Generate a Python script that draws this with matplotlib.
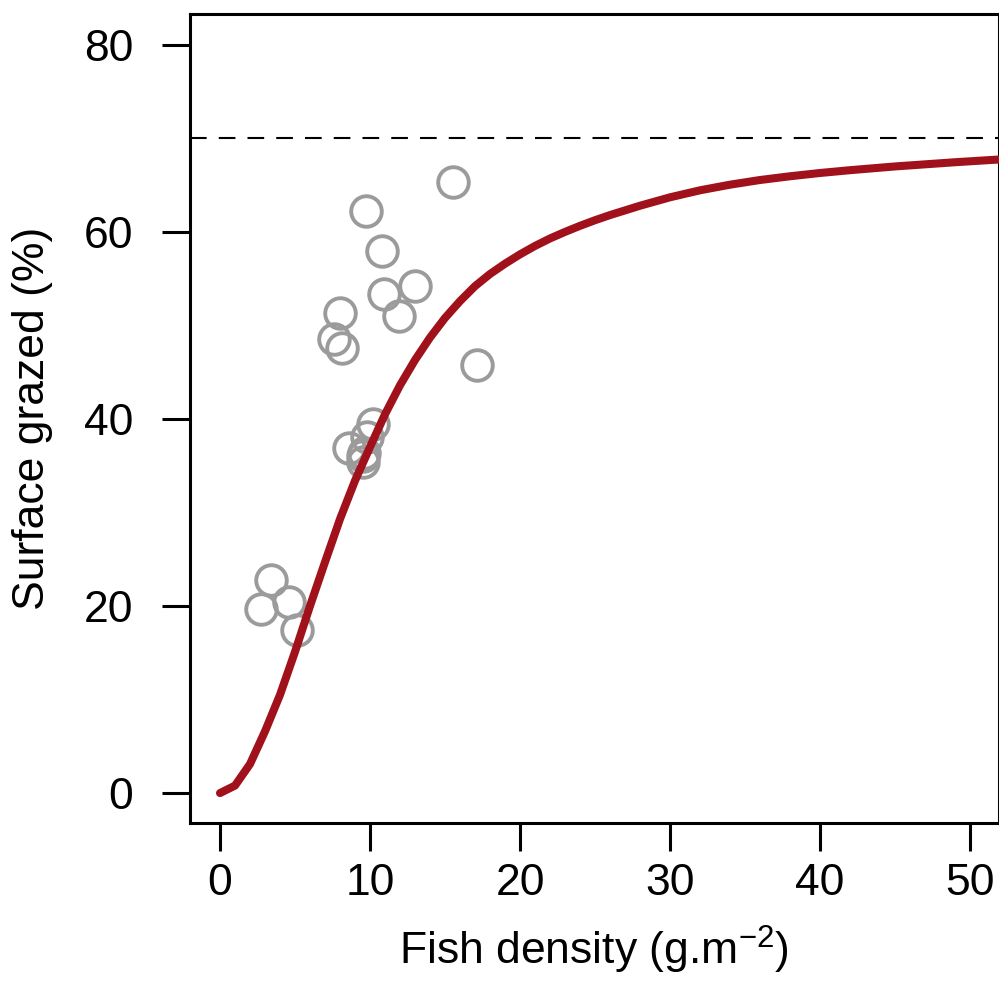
import matplotlib
matplotlib.use("Agg")
import matplotlib.pyplot as plt

plt.rcParams["font.family"] = ["Liberation Sans", "DejaVu Sans"]
plt.rcParams["mathtext.fontset"] = "custom"
plt.rcParams["mathtext.rm"] = "Liberation Sans"
plt.rcParams["mathtext.it"] = "Liberation Sans"

# observed points (fish density, % surface grazed)
fish_density = [15.5, 9.7, 10.8, 8.0, 10.9, 13.0, 11.9, 7.6, 8.1, 17.1,
                10.2, 9.8, 8.6, 9.6, 9.5, 9.5, 3.4, 2.7, 4.6, 5.1]
surface_grazed = [65.3, 62.2, 58.0, 51.3, 53.4, 54.2, 51.0, 48.6, 47.6, 45.8,
                  39.5, 38.1, 36.9, 36.4, 35.4, 36.0, 22.8, 19.7, 20.4, 17.4]

# fitted curve
curve_x = [0, 1, 2, 3, 4, 5, 6, 7, 8, 9, 10, 11, 12, 13, 14, 15, 16, 17,
           18, 19, 20, 21, 22, 23, 24, 25, 26, 27, 28, 30, 32, 34, 36, 38,
           40, 42, 45, 49, 52]
curve_y = [0, 0.8, 3.1, 6.6, 10.5, 15.1, 20.0, 24.7, 29.3, 33.4, 37.0, 40.5,
           43.6, 46.3, 48.7, 50.8, 52.6, 54.2, 55.5, 56.6, 57.6, 58.5, 59.3,
           60.0, 60.65, 61.25, 61.8, 62.3, 62.8, 63.7, 64.45, 65.05, 65.55,
           65.95, 66.3, 66.6, 67.0, 67.45, 67.75]

asymptote = 70

fig = plt.figure(figsize=(9.99, 10.01), dpi=100)
ax = fig.add_axes([190 / 999, 1 - 823 / 1001, (998.5 - 190) / 999, (823 - 14) / 1001])

ax.axhline(asymptote, color="black", lw=1.5, dashes=(8, 5.8))
ax.plot(fish_density, surface_grazed, "o", ms=22, mfc="none",
        mec="#9b9b9b", mew=2.8, zorder=2)
ax.plot(curve_x, curve_y, color="#a0111b", lw=5.8, solid_capstyle="round",
        solid_joinstyle="round", zorder=3)

ax.set_xlim(-2, 51.9)
ax.set_ylim(-3.2, 83.3)
ax.set_xticks([0, 10, 20, 30, 40, 50])
ax.set_yticks([0, 20, 40, 60, 80])

for s in ax.spines.values():
    s.set_linewidth(2.2)
ax.tick_params(axis="both", length=20, width=2.2, labelsize=32)
ax.tick_params(axis="x", pad=9)
ax.tick_params(axis="y", pad=21)

ax.set_xlabel("Fish density (g.m$^{\u2212 2}$)", fontsize=32, labelpad=14)
ax.set_ylabel("Surface grazed (%)", fontsize=32, labelpad=22)

fig.savefig("out.png", dpi=100)
